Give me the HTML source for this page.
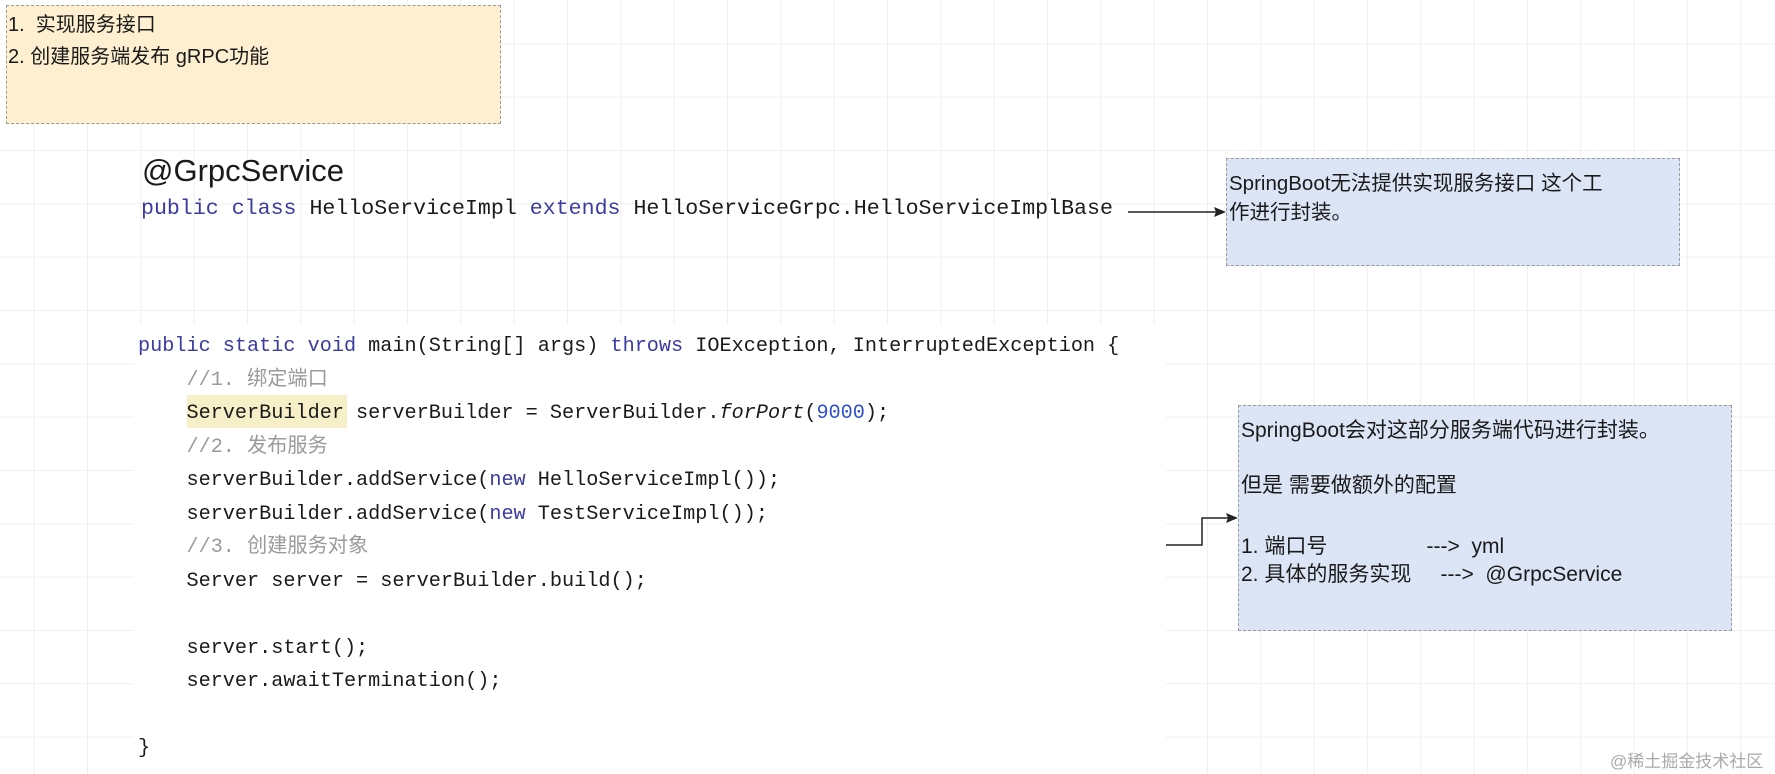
<!DOCTYPE html>
<html><head><meta charset="utf-8"><style>
body{margin:0;width:1775px;height:774px;overflow:hidden;position:relative;background:#fff;
background-image:linear-gradient(to right,#efefef 1px,transparent 1px),linear-gradient(to bottom,#efefef 1px,transparent 1px);
background-size:53.33px 53.33px;background-position:33.7px 43.3px;font-family:"Liberation Sans","Noto Sans CJK SC",sans-serif;color:#1a1a1a}
.abs{position:absolute;white-space:pre}
.box{position:absolute;border:1.5px dashed #9a9a9a;box-sizing:border-box}
.mono{font-family:"Liberation Mono","Noto Sans CJK SC",monospace;font-size:20.2px;line-height:33.5px}
.kw{color:#3b3ba0}.cm{color:#9a9a9a}.num{color:#3050c8}
</style></head><body>
<div class="box" style="left:6px;top:5px;width:495px;height:119px;background:#fdefcf"></div>
<div class="abs" style="left:8px;top:9px;font-size:20px;line-height:32px">1.  实现服务接口
2. 创建服务端发布 gRPC功能</div>

<div class="abs" style="left:142px;top:153px;font-size:31px">@GrpcService</div>
<div class="abs" style="left:141px;top:196px;font-family:'Liberation Mono',monospace;font-size:21.6px;line-height:26px"><span class="kw">public class</span> HelloServiceImpl <span class="kw">extends</span> HelloServiceGrpc.HelloServiceImplBase</div>

<div class="box" style="left:1226px;top:158px;width:454px;height:108px;background:#dce5f5"></div>
<div class="abs" style="left:1229px;top:169px;font-size:20.5px;line-height:29px">SpringBoot无法提供实现服务接口 这个工
作进行封装。</div>

<div style="position:absolute;left:134px;top:325px;width:1032px;height:449px;background:#fff"></div>
<div style="position:absolute;left:187px;top:395px;width:160px;height:33px;background:#f6efc8"></div>
<div class="abs mono" style="left:138px;top:330px"><span class="kw">public static void</span> main(String[] args) <span class="kw">throws</span> IOException, InterruptedException {
    <span class="cm">//1. 绑定端口</span>
    ServerBuilder serverBuilder = ServerBuilder.<i>forPort</i>(<span class="num">9000</span>);
    <span class="cm">//2. 发布服务</span>
    serverBuilder.addService(<span class="kw">new</span> HelloServiceImpl());
    serverBuilder.addService(<span class="kw">new</span> TestServiceImpl());
    <span class="cm">//3. 创建服务对象</span>
    Server server = serverBuilder.build();

    server.start();
    server.awaitTermination();

}</div>

<div class="box" style="left:1238px;top:405px;width:494px;height:226px;background:#dce5f5"></div>
<div class="abs" style="left:1241px;top:417px;font-size:21px;line-height:28px">SpringBoot会对这部分服务端代码进行封装。</div>
<div class="abs" style="left:1241px;top:472px;font-size:21px;line-height:28px">但是 需要做额外的配置</div>
<div class="abs" style="left:1241px;top:533px;font-size:21px;line-height:28px">1. 端口号                 ---&gt;  yml</div>
<div class="abs" style="left:1241px;top:561px;font-size:21px;line-height:28px">2. 具体的服务实现     ---&gt;  @GrpcService</div>

<svg style="position:absolute;left:0;top:0" width="1775" height="774">
<line x1="1128" y1="212" x2="1216" y2="212" stroke="#222" stroke-width="1.5"/>
<polygon points="1226,212 1214,207 1216,212 1214,217" fill="#222"/>
<polyline points="1166,545 1202,545 1202,518 1228,518" fill="none" stroke="#222" stroke-width="1.5"/>
<polygon points="1238,518 1226,513 1228,518 1226,523" fill="#222"/>
</svg>
<div class="abs" style="left:1610px;top:747px;font-size:17px;color:#aaa">@稀土掘金技术社区</div>
</body></html>
